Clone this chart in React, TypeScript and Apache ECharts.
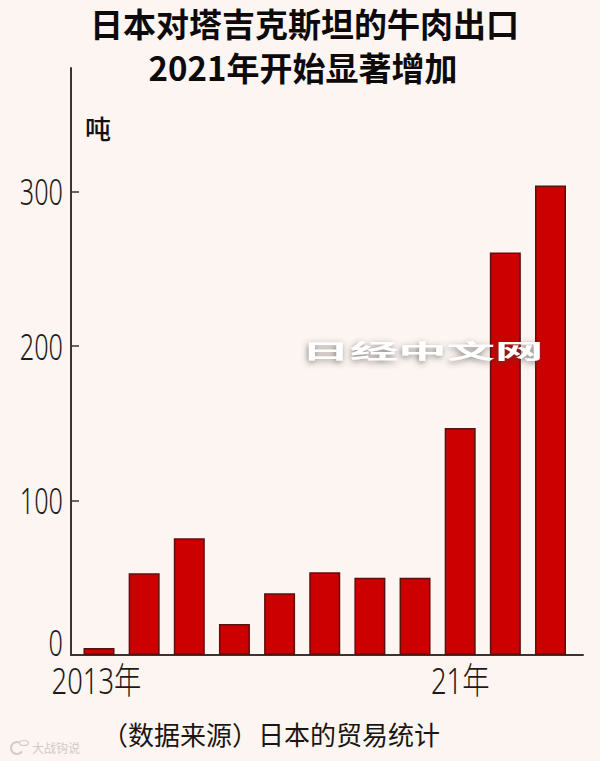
import React, { useEffect, useRef } from "react";
import * as echarts from "echarts";

const titleLines = ["日本对塔吉克斯坦的牛肉出口", "2021年开始显著增加"];
const unit = "吨";
const source = "（数据来源）日本的贸易统计";
const years = ["2013年", "14", "15", "16", "17", "18", "19", "20", "21年", "22", "23"];
const labelledYears = [0, 8];
const tonnes = [4.5, 53, 75.5, 20, 40, 53.5, 50, 50, 147, 260.5, 304];
const yTicks = [0, 100, 200, 300];
const watermark = "日经中文网";
const cornerMark = "大战钩说";

const CJK = '"Noto Sans CJK SC"';
const LABEL = `"Noto Sans", ${CJK}`;
const AXIS = "#3a3430";
const LABEL_COLOR = "#1f1a18";

export default function App() {
  const ref = useRef<HTMLDivElement>(null);
  useEffect(() => {
    const chart = echarts.init(ref.current!, null, { renderer: "svg" });
    chart.setOption({
      animation: false,
      backgroundColor: "#fdf5f1",
      grid: { left: 71, right: 17, top: 68, bottom: 106 },
      xAxis: {
        type: "value",
        min: -0.62,
        max: 10.72,
        splitLine: { show: false },
        axisLine: { show: true, onZero: false, lineStyle: { color: AXIS, width: 2 } },
        axisTick: { show: false },
        axisLabel: { show: false },
      },
      yAxis: {
        type: "value",
        min: 0,
        max: 380,
        interval: 100,
        splitLine: { show: false },
        axisLine: { show: true, onZero: false, lineStyle: { color: AXIS, width: 2 } },
        axisTick: { show: true, inside: true, length: 8, lineStyle: { color: AXIS, width: 1.5 }, customValues: yTicks.slice(1) },
        axisLabel: { show: false },
      },
      series: [
        {
          type: "bar",
          barWidth: 31,
          data: tonnes.map((v, i) => [i, v]),
          itemStyle: { color: "#cc0000", borderColor: "#5a1010", borderWidth: 1.5 },
        },
      ],
    });

    const px = (v: number) => chart.convertToPixel({ xAxisIndex: 0 }, v) as number;
    const py = (v: number) => chart.convertToPixel({ yAxisIndex: 0 }, v) as number;

    const yLabels = yTicks.map((v) => ({
      type: "text",
      x: 63,
      y: v === 0 ? py(v) - 13 : py(v),
      scaleX: 0.7,
      style: { text: String(v), font: `300 36px ${LABEL}`, fill: LABEL_COLOR, align: "right", verticalAlign: "middle" },
    }));
    const xLabels = labelledYears.map((i) => ({
      type: "text",
      x: i === 0 ? px(i) - 2.5 : px(i),
      y: 680,
      scaleX: 0.76,
      style: { text: years[i], font: `300 36px ${LABEL}`, fill: LABEL_COLOR, align: "center", verticalAlign: "middle" },
    }));

    chart.setOption({
      graphic: [
        ...yLabels,
        ...xLabels,
        { type: "text", x: 304.5, y: 23, style: { text: titleLines[0], font: `bold 33px ${CJK}`, fill: "#0c0a0a", align: "center", verticalAlign: "middle" } },
        { type: "text", x: 303, y: 67, style: { text: titleLines[1], font: `bold 33px ${CJK}`, fill: "#0c0a0a", align: "center", verticalAlign: "middle" } },
        { type: "text", x: 98, y: 127, style: { text: unit, font: `500 26px ${CJK}`, fill: "#111", align: "center", verticalAlign: "middle" } },
        { type: "text", x: 271, y: 733, style: { text: source, font: `400 26px ${CJK}`, fill: "#1a1614", align: "center", verticalAlign: "middle" } },
        { type: "text", x: 422.5, y: 350, scaleX: 2.42, z: 20, style: { text: watermark, font: `bold 20px ${CJK}`, fill: "#ffffff", align: "center", verticalAlign: "middle", textShadowColor: "rgba(60,60,60,0.65)", textShadowBlur: 6, textShadowOffsetX: -1, textShadowOffsetY: 2 } },
        { type: "text", x: 56, y: 747, style: { text: cornerMark, font: `12px ${CJK}`, fill: "#cfcbc8", align: "center", verticalAlign: "middle" } },
        { type: "arc", shape: { cx: 17, cy: 748, r: 6, startAngle: 0.6, endAngle: 5.2 }, style: { stroke: "#cfcbc8", fill: "none", lineWidth: 2 } },
        { type: "ellipse", shape: { cx: 24, cy: 743, rx: 4.5, ry: 2.5 }, style: { stroke: "#cfcbc8", fill: "none", lineWidth: 1.2 } },
      ],
    });
    return () => chart.dispose();
  }, []);
  return <div ref={ref} style={{ width: 600, height: 761, position: "fixed", left: 0, top: 0 }} />;
}
